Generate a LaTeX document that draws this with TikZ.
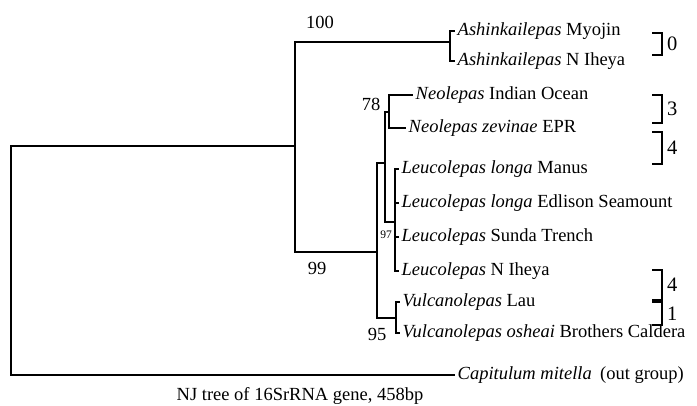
\documentclass[tikz,border=0pt]{standalone}
\usepackage{fontspec}
\setmainfont{Liberation Serif}
\usepackage{tikz}
\usetikzlibrary{positioning}

\newcommand{\grpbracket}[4]{%
  \draw[branch] (652,#1) -| (662,#2) -- (652,#2);
  \node[grp] (#4) at (666,{(#1+#2)/2}) {#3};}

\begin{document}
\begin{tikzpicture}[x=1pt,y=-1pt,font=\fontsize{18.5}{21}\selectfont,
		branch/.style={line width=1.1pt},
		leaf/.style={anchor=west,inner sep=2.5pt},
		boot/.style={inner sep=1pt},
		grp/.style={anchor=west,inner sep=1pt,font=\fontsize{20.5}{22}\selectfont}]
		\useasboundingbox (0,0) rectangle (697,405);

		% inner nodes of the tree
		\coordinate (root) at (11,260);
		\coordinate (nA) at (295,146);
		\coordinate (nAsh) at (450,42);
		\coordinate (n99) at (377,252);
		\coordinate (nC) at (385,163);
		\coordinate (n78) at (389,112);
		\coordinate (n97) at (395,222);
		\coordinate (nVul) at (396,318);

		% leaves
		\node[leaf] (ashM) at (455,31) {\textit{Ashinkailepas} Myojin};
		\node[leaf] (ashN) at (455,61) {\textit{Ashinkailepas} N Iheya};
		\node[leaf] (neoI) at (413,95) {\textit{Neolepas} Indian Ocean};
		\node[leaf] (neoZ) at (406,128) {\textit{Neolepas zevinae} EPR};
		\node[leaf] (leuM) at (399,169) {\textit{Leucolepas longa} Manus};
		\node[leaf] (leuE) at (399,203) {\textit{Leucolepas longa} Edlison Seamount};
		\node[leaf] (leuS) at (399,237) {\textit{Leucolepas} Sunda Trench};
		\node[leaf] (leuN) at (399,271) {\textit{Leucolepas} N Iheya};
		\node[leaf] (vulL) at (400,302) {\textit{Vulcanolepas} Lau};
		\node[leaf] (vulO) at (400,333) {\textit{Vulcanolepas osheai} Brothers Caldera};
		\node[leaf] (capi) at (455,375) {\textit{Capitulum mitella}\hspace{0.45em}(out group)};

		% bootstrap values
		\node[boot] (b100) at (320,22) {100};
		\node[boot] (b99) at (317,268) {99};
		\node[boot] (b78) at (371,104) {78};
		\node[boot,anchor=east,font=\fontsize{11.5}{12}\selectfont] (b97) at (393,235) {97};
		\node[boot] (b95) at (377,334) {95};

		% branches
		\draw[branch] (root) |- (nA);
		\draw[branch] (root) |- (capi.west);
		\draw[branch] (nA) |- (nAsh);
		\draw[branch] (nA) |- (n99);
		\draw[branch] (nAsh) |- (ashM.west);
		\draw[branch] (nAsh) |- (ashN.west);
		\draw[branch] (n99) |- (nC);
		\draw[branch] (n99) |- (nVul);
		\draw[branch] (nC) |- (n78);
		\draw[branch] (nC) |- (n97);
		\draw[branch] (n78) |- (neoI.west);
		\draw[branch] (n78) |- (neoZ.west);
		\draw[branch] (n97) |- (leuM.west);
		\draw[branch] (n97) |- (leuE.west);
		\draw[branch] (n97) |- (leuS.west);
		\draw[branch] (n97) |- (leuN.west);
		\draw[branch] (nVul) |- (vulL.west);
		\draw[branch] (nVul) |- (vulO.west);

		% groups on the right
		\grpbracket{33}{55}{0}{g0}
		\grpbracket{95}{123}{3}{g3}
		\grpbracket{132}{164}{4}{g4a}
		\grpbracket{270}{300}{4}{g4b}
		\grpbracket{302}{325}{1}{g1}

		\node (caption) at (300,396) {NJ tree of 16SrRNA gene, 458bp};
	\end{tikzpicture}
\end{document}
